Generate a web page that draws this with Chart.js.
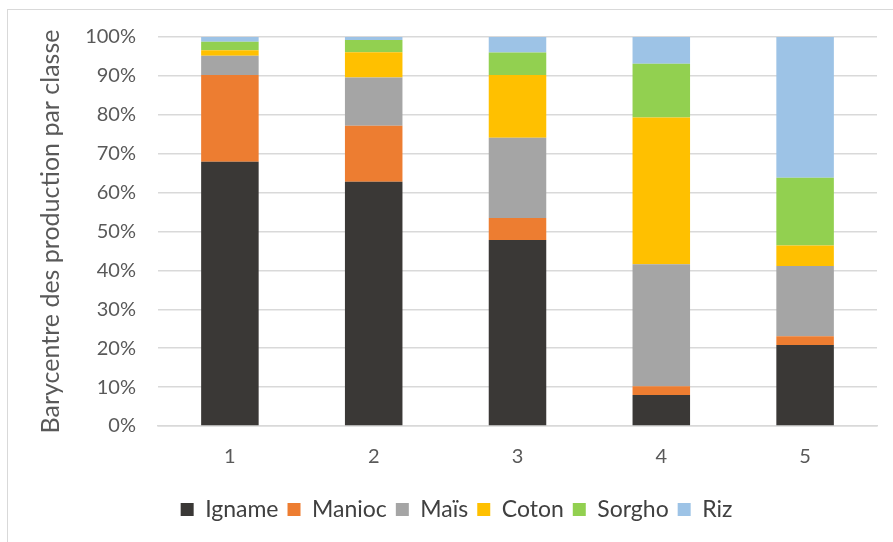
<!DOCTYPE html>
<html>
<head>
<meta charset="utf-8">
<script src="https://cdn.jsdelivr.net/npm/chart.js@4/dist/chart.umd.min.js"></script>
<style>
  html, body { margin: 0; padding: 0; background: #fff; }
  #wrap { width: 893px; height: 542px; }
</style>
</head>
<body>
<div id="wrap"><canvas id="chart"></canvas></div>
<script>
const classes = ['1', '2', '3', '4', '5'];

// share of production (%) per crop, per class
const igname = [67.9, 62.8, 47.8, 8.0, 20.8];
const manioc = [22.3, 14.4, 5.7, 2.2, 2.3];
const mais   = [5.0, 12.4, 20.6, 31.4, 18.0];
const coton  = [1.4, 6.5, 16.1, 37.7, 5.3];
const sorgho = [2.2, 3.1, 5.8, 13.8, 17.4];
const riz    = [1.2, 0.8, 4.0, 6.9, 36.2];

const tickFont = { family: 'Lato', size: 20 };

const framePlugin = {
    id: 'frame',
    beforeDraw(chart) {
        const ctx = chart.ctx;
        ctx.save();
        ctx.strokeStyle = '#d9d9d9';
        ctx.lineWidth = 1;
        ctx.strokeRect(7.5, 9.5, 900, 600);
        ctx.restore();
    }
};

new Chart(document.getElementById('chart').getContext('2d'), {
    type: 'bar',
    data: {
        labels: classes,
        datasets: [
            { label: 'Igname', data: igname, backgroundColor: '#3a3836' },
            { label: 'Manioc', data: manioc, backgroundColor: '#ed7d31' },
            { label: 'Maïs', data: mais, backgroundColor: '#a5a5a5' },
            { label: 'Coton', data: coton, backgroundColor: '#ffc000' },
            { label: 'Sorgho', data: sorgho, backgroundColor: '#92d050' },
            { label: 'Riz', data: riz, backgroundColor: '#9dc3e6' }
        ]
    },
    options: {
        responsive: true,
        maintainAspectRatio: false,
        animation: false,
        datasets: { bar: { barPercentage: 0.4, categoryPercentage: 1.0 } },
        layout: { padding: { left: 36, right: 16, top: 37, bottom: 11 } },
        plugins: {
            legend: {
                position: 'bottom',
                labels: {
                    font: { family: 'Lato', size: 23 },
                    color: '#404040',
                    boxWidth: 13,
                    boxHeight: 13,
                    padding: 9
                }
            },
            tooltip: { enabled: false }
        },
        scales: {
            x: {
                stacked: true,
                grid: { display: false, drawTicks: false },
                border: { color: '#d9d9d9', width: 1.5 },
                ticks: { font: tickFont, color: '#595959', padding: 19 },
                afterFit(scale) { scale.height = 63; }
            },
            y: {
                stacked: true,
                min: 0,
                max: 100,
                grid: { color: '#d9d9d9', lineWidth: 1.5, drawTicks: false },
                border: { display: false },
                ticks: {
                    stepSize: 10,
                    font: tickFont,
                    color: '#595959',
                    padding: 22,
                    callback: v => v + '%'
                },
                title: {
                    display: true,
                    text: 'Barycentre des production par classe',
                    font: { family: 'Lato', size: 25 },
                    color: '#595959',
                    padding: { top: 0, bottom: 0 }
                },
                afterFit(scale) { scale.width = 122; }
            }
        }
    },
    plugins: [framePlugin]
});
</script>
</body>
</html>
